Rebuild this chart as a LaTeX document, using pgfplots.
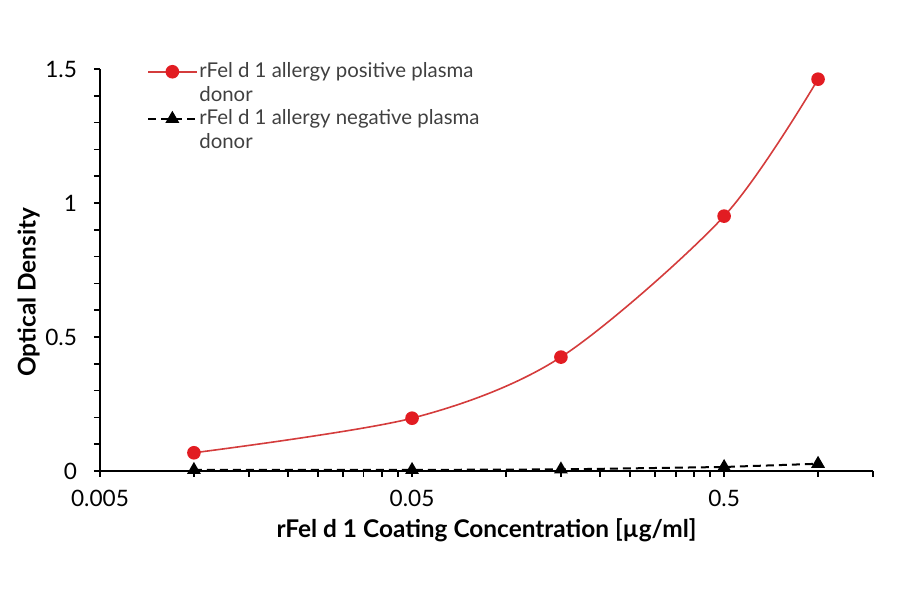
\documentclass[border=0pt]{standalone}
\usepackage{pgfplots}
\pgfplotsset{compat=1.18}
\usepackage{fontspec}
\setmainfont{Lato}
\definecolor{posline}{RGB}{212,60,60}
\definecolor{posmark}{RGB}{226,28,34}
\definecolor{legtext}{RGB}{64,64,64}

\begin{document}
\begin{tikzpicture}
\useasboundingbox (0,0) rectangle (450pt,297pt);
\begin{axis}[
    at={(50pt,61.5pt)}, anchor=south west,
    scale only axis, width=386.5pt, height=201pt,
    xmode=log, log basis x=10,
    xmin=0.005, xmax=1.5,
    ymin=0, ymax=1.5,
    axis lines*=left,
    axis line style={line width=1pt, black},
    xtick={0.005,0.05,0.5},
    xticklabels={0.005,0.05,0.5},
    minor xtick={0.01,0.015,0.02,0.025,0.03,0.035,0.04,0.045,
                 0.1,0.15,0.2,0.25,0.3,0.35,0.4,0.45,1,1.5},
    ytick={0,0.5,1,1.5},
    yticklabels={0,0.5,1,1.5},
    minor ytick={0.1,0.2,0.3,0.4,0.6,0.7,0.8,0.9,1.1,1.2,1.3,1.4},
    tick align=outside,
    major tick length=3pt, minor tick length=3pt,
    tick style={line width=0.8pt, black},
    clip=false,
    tick label style={font=\fontsize{11.3}{13}\selectfont},
    xticklabel style={yshift=-3pt},
    yticklabel style={xshift=-5pt},
    /pgf/number format/assume math mode=true,
    xlabel={\textbf{rFel d 1 Coating Concentration [µg/ml]}},
    ylabel={\textbf{Optical Density}},
    label style={font=\fontsize{12.2}{14}\selectfont},
    xlabel style={yshift=1pt},
    ylabel style={at={(ticklabel cs:0.445)}, yshift=-4pt},
    legend cell align=left,
    legend style={draw=none, fill=none, at={(0.053,1.032)}, anchor=north west,
        font=\fontsize{10.2}{12}\selectfont, text=legtext,
        nodes={align=left, inner sep=1pt}, row sep=0.5pt},
    legend image code/.code={
        \begin{scope}[yshift=5.9pt]
        \draw[mark repeat=2, mark phase=2, #1] plot coordinates {(0pt,0pt) (12pt,0pt) (24pt,0pt)};
        \end{scope}},
]
\addplot[color=posline, line width=0.8pt, smooth,
    mark=*, mark size=3pt, mark options={solid, fill=posmark, draw=posmark}]
    coordinates {(0.01,0.068) (0.05,0.197) (0.15,0.425) (0.5,0.951) (1.0,1.462)};
\addlegendentry{rFel d 1 allergy positive plasma\\donor}
\addplot[color=black, line width=1pt, dash pattern=on 4pt off 2.5pt,
    mark=triangle*, mark size=3pt, mark options={solid, fill=black}]
    coordinates {(0.01,0.004) (0.05,0.004) (0.15,0.006) (0.5,0.015) (1.0,0.027)};
\addlegendentry{rFel d 1 allergy negative plasma\\donor}
\end{axis}
\end{tikzpicture}
\end{document}
